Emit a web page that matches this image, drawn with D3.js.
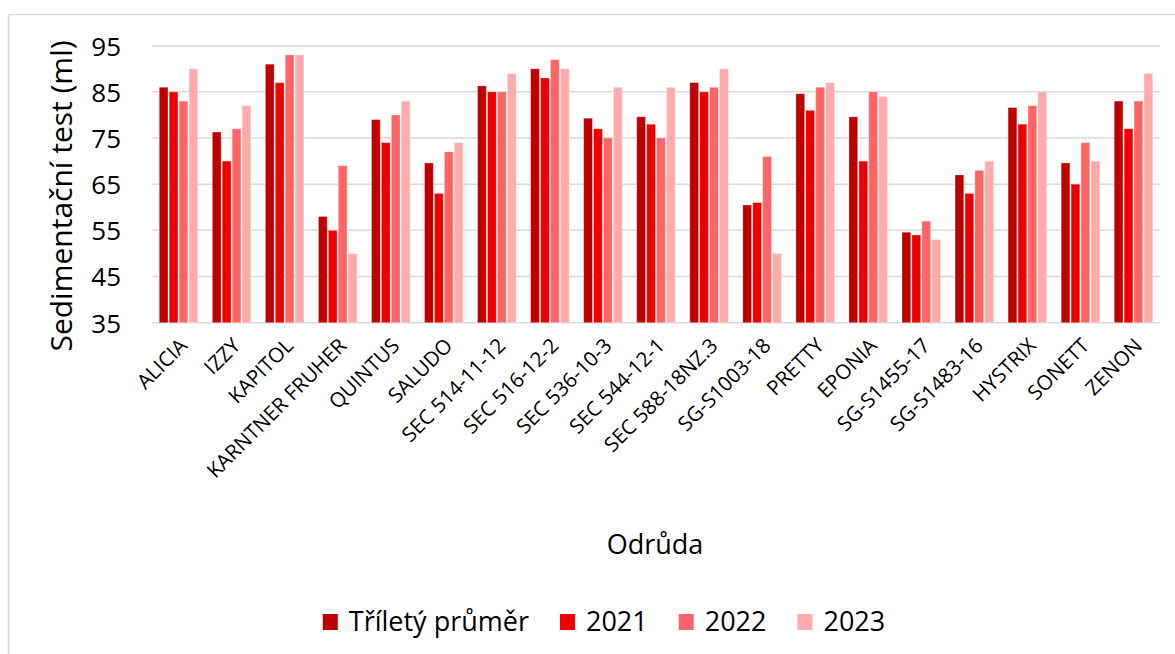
<!DOCTYPE html>
<html>
<head>
<meta charset="utf-8">
<script src="https://cdn.jsdelivr.net/npm/d3@7"></script>
<style>
  body { margin: 0; background: #fff; }
  svg { display: block; font-family: "Open Sans", "Noto Sans", sans-serif; }
</style>
</head>
<body>
<script>
// Sedimentační test po odrůdách - seskupené sloupce

let odrudy = ["ALICIA", "IZZY", "KAPITOL", "KARNTNER FRUHER", "QUINTUS", "SALUDO",
              "SEC 514-11-12", "SEC 516-12-2", "SEC 536-10-3", "SEC 544-12-1",
              "SEC 588-18NZ.3", "SG-S1003-18", "PRETTY", "EPONIA", "SG-S1455-17",
              "SG-S1483-16", "HYSTRIX", "SONETT", "ZENON"];

let serie = ["Tříletý průměr", "2021", "2022", "2023"];

let prumer = [86, 76.3, 91, 58, 79, 69.6, 86.3, 90, 79.3, 79.6, 87, 60.5, 84.6, 79.6, 54.6, 67, 81.6, 69.6, 83];
let rok2021 = [85, 70, 87, 55, 74, 63, 85, 88, 77, 78, 85, 61, 81, 70, 54, 63, 78, 65, 77];
let rok2022 = [83, 77, 93, 69, 80, 72, 85, 92, 75, 75, 86, 71, 86, 85, 57, 68, 82, 74, 83];
let rok2023 = [90, 82, 93, 50, 83, 74, 89, 90, 86, 86, 90, 50, 87, 84, 53, 70, 85, 70, 89];

let yTicks = [35, 45, 55, 65, 75, 85, 95];

let barvy = ["#C00000", "#EE0000", "#FF6565", "#FFABAB"];

let WIDTH = 1175;
let HEIGHT = 654;

// data po radcich: jedna polozka za odrudu
let data = odrudy.map((o, i) => ({
    odruda: o,
    hodnoty: [prumer[i], rok2021[i], rok2022[i], rok2023[i]]
}));

let svg = d3.select("body").append("svg")
            .attr("width", WIDTH)
            .attr("height", HEIGHT);

// ramecek grafu
svg.append("rect")
   .attr("x", 8.5).attr("y", 14.5)
   .attr("width", WIDTH + 20).attr("height", HEIGHT + 20)
   .attr("fill", "none")
   .attr("stroke", "#d9d9d9")
   .attr("stroke-width", 1.5);

let plotLeft = 152, plotRight = 1160;

let x0 = d3.scaleBand()
           .domain(odrudy)
           .range([plotLeft, plotRight])
           .paddingInner(0.274)
           .paddingOuter(0.137);

let x1 = d3.scaleBand()
           .domain(d3.range(serie.length))
           .range([0, x0.bandwidth()])
           .paddingInner(0.12);

let y = d3.scaleLinear()
          .domain([35, 95])
          .range([322.7, 45.7]);

// mrizka
svg.append("g")
   .selectAll("line")
   .data(yTicks)
   .enter()
   .append("line")
     .attr("x1", plotLeft).attr("x2", plotRight)
     .attr("y1", d => y(d)).attr("y2", d => y(d))
     .attr("stroke", "#d9d9d9")
     .attr("stroke-width", 1.5);

// popisky osy y
let yAxis = d3.axisLeft(y).tickValues(yTicks).tickSize(0).tickPadding(0);
svg.append("g")
   .attr("transform", "translate(121,0)")
   .call(yAxis)
   .call(g => g.select(".domain").remove())
   .selectAll("text")
     .attr("font-size", 26)
     .attr("font-family", "Open Sans")
     .attr("fill", "#000")
     .attr("dy", "0.36em");

// sloupce
let skupiny = svg.append("g")
                 .selectAll("g")
                 .data(data)
                 .enter()
                 .append("g")
                   .attr("transform", d => "translate(" + x0(d.odruda) + ",0)");

skupiny.selectAll("rect")
       .data(d => d.hodnoty.map((v, i) => ({v: v, i: i})))
       .enter()
       .append("rect")
         .attr("x", d => x1(d.i))
         .attr("y", d => y(d.v))
         .attr("width", x1.bandwidth())
         .attr("height", d => y(35) - y(d.v))
         .attr("fill", d => barvy[d.i])
         .attr("stroke", "#fff")
         .attr("stroke-opacity", 0.35)
         .attr("stroke-width", 0.8);

// popisky osy x (natocene)
let xAxis = d3.axisBottom(x0).tickSize(0).tickPadding(0);
svg.append("g")
   .attr("transform", "translate(0,338)")
   .call(xAxis)
   .call(g => g.select(".domain").remove())
   .selectAll("text")
     .attr("font-size", 20.5)
     .attr("font-family", "Open Sans")
     .attr("fill", "#000")
     .attr("text-anchor", "end")
     .attr("dy", 0)
     .attr("transform", "translate(10,9) rotate(-45)");

// nazvy os
svg.append("text")
   .attr("transform", "translate(72,196) rotate(-90)")
   .attr("text-anchor", "middle")
   .attr("font-size", 30)
   .attr("fill", "#000")
   .text("Sedimentační test (ml)");

svg.append("text")
   .attr("x", 655).attr("y", 554)
   .attr("text-anchor", "middle")
   .attr("font-size", 27)
   .attr("fill", "#000")
   .text("Odrůda");

// legenda - polozky za sebou podle sirky textu
let legenda = svg.append("g");
let polozky = legenda.selectAll("g")
                     .data(serie)
                     .enter()
                     .append("g");

polozky.append("rect")
       .attr("y", -17)
       .attr("width", 15).attr("height", 16)
       .attr("fill", (d, i) => barvy[i]);

polozky.append("text")
       .attr("x", 26).attr("y", 0)
       .attr("font-size", 27)
       .attr("fill", "#000")
       .text(d => d);

let posun = 0;
polozky.each(function() {
    let g = d3.select(this);
    g.attr("transform", "translate(" + posun + ",0)");
    posun += 26 + g.select("text").node().getComputedTextLength() + 31;
});
let celkem = posun - 31;
legenda.attr("transform", "translate(" + (604 - celkem / 2) + ",631)");
</script>
</body>
</html>
